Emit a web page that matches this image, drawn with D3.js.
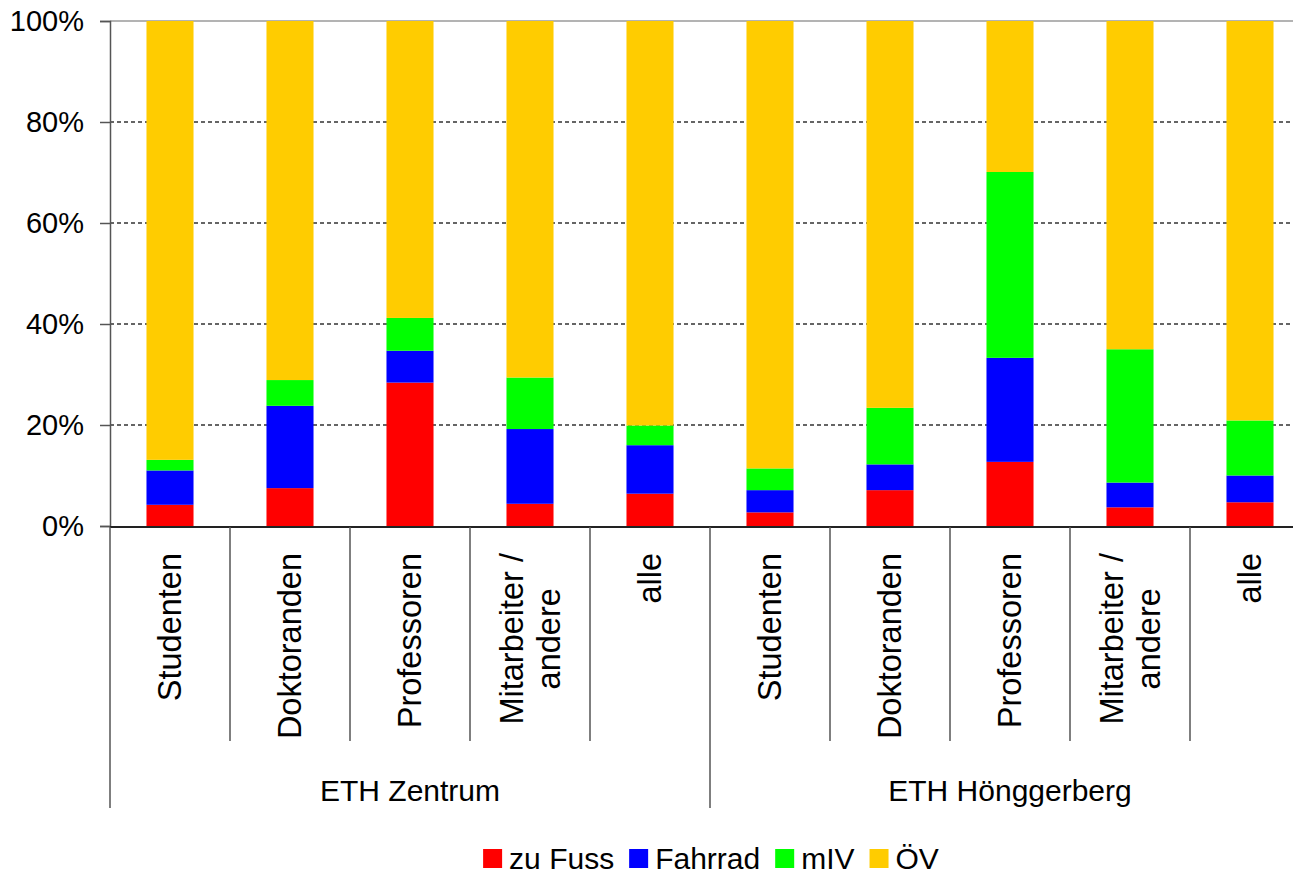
<!DOCTYPE html>
<html>
<head>
<meta charset="utf-8">
<script src="https://cdn.jsdelivr.net/npm/d3@7"></script>
<style>
  html, body { margin: 0; padding: 0; background: #fff; overflow: hidden; }
  text { font-family: "Liberation Sans", Arial, sans-serif; fill: #000; }
</style>
</head>
<body>
<svg id="chart" width="1293" height="875"></svg>
<script>
// ---- data ----
const groups = ["ETH Zentrum", "ETH Hönggerberg"];
const categories = ["Studenten", "Doktoranden", "Professoren", "Mitarbeiter /\nandere", "alle"];
const seriesNames = ["zu Fuss", "Fahrrad", "mIV", "ÖV"];
const zuFuss  = [4.2, 7.5, 28.4, 4.4, 6.4,   2.7, 7.1, 12.7, 3.7, 4.7];
const fahrrad = [6.8, 16.3, 6.3, 14.8, 9.6,  4.4, 5.1, 20.6, 4.9, 5.3];
const mIV     = [2.1, 5.1, 6.5, 10.2, 3.9,   4.3, 11.2, 36.8, 26.4, 10.9];
const oev     = [86.9, 71.1, 58.8, 70.6, 80.1, 88.6, 76.6, 29.9, 65.0, 79.1];
const yTicks = [0, 20, 40, 60, 80, 100];
const colors = ["#FF0000", "#0000FF", "#00FF00", "#FFCC00"];

// ---- build table ----
const seriesValues = [zuFuss, fahrrad, mIV, oev];
const rows = [];
groups.forEach((g, gi) => categories.forEach((c, ci) => {
  const idx = gi * categories.length + ci;
  const row = { key: g + "|" + c, group: g, cat: c };
  seriesNames.forEach((s, si) => row[s] = seriesValues[si][idx]);
  rows.push(row);
}));

const svg = d3.select("#chart");
const mLeft = 110, mRight = 1310, mTop = 21, mBottom = 526;

const x = d3.scaleBand().domain(rows.map(r => r.key)).range([mLeft, mRight])
  .paddingInner(0.608).paddingOuter(0.304);
const step = x.step();
const y = d3.scaleLinear().domain([0, 100]).range([mBottom, mTop]);

// gridlines
svg.append("g").selectAll("line").data(yTicks.filter(t => t > 0 && t < 100)).join("line")
  .attr("x1", mLeft).attr("x2", 1293).attr("y1", d => y(d)).attr("y2", d => y(d))
  .attr("stroke", "#333").attr("stroke-width", 1.5).attr("stroke-dasharray", "4,3");
svg.append("line").attr("x1", mLeft).attr("x2", 1293).attr("y1", y(100)).attr("y2", y(100))
  .attr("stroke", "#b3b3b3").attr("stroke-width", 2);

// stacked bars
const stack = d3.stack().keys(seriesNames)(rows);
svg.append("g").selectAll("g").data(stack).join("g")
  .attr("fill", (d, i) => colors[i])
  .selectAll("rect").data(d => d).join("rect")
  .attr("x", d => x(d.data.key)).attr("width", x.bandwidth())
  .attr("y", d => y(d[1])).attr("height", d => y(d[0]) - y(d[1]));

// y axis
const yAxis = svg.append("g").attr("transform", `translate(${mLeft},0)`)
  .call(d3.axisLeft(y).tickValues(yTicks).tickFormat(d => d + "%").tickSize(10).tickPadding(16));
yAxis.select(".domain").attr("stroke", "#555").attr("stroke-width", 1.5);
yAxis.selectAll(".tick line").attr("stroke", "#555").attr("stroke-width", 1.5);
yAxis.selectAll(".tick text").attr("font-size", 29).attr("font-family", "Liberation Sans, Arial, sans-serif").attr("fill", "#000");

// x axis baseline
svg.append("line").attr("x1", mLeft).attr("x2", 1293).attr("y1", mBottom + 1).attr("y2", mBottom + 1)
  .attr("stroke", "#222").attr("stroke-width", 2);

// category separators
const sepXs = d3.range(rows.length + 1).map(i => mLeft + i * step);
svg.append("g").selectAll("line").data(sepXs).join("line")
  .attr("x1", d => d).attr("x2", d => d).attr("y1", mBottom + 1)
  .attr("y2", (d, i) => (i % categories.length === 0) ? 808 : 741)
  .attr("stroke", "#555").attr("stroke-width", 1.5);

// category labels
const fs = 32.5;
const labG = svg.append("g");
rows.forEach(r => {
  const cx = x(r.key) + x.bandwidth() / 2;
  const lines = r.cat.split("\n");
  const t = labG.append("text").attr("font-size", fs)
    .attr("transform", `translate(${cx},553) rotate(-90)`);
  if (lines.length === 1) {
    t.attr("text-anchor", "end").attr("dy", "0.35em").text(lines[0]);
  } else {
    t.attr("text-anchor", "middle");
    lines.forEach((ln, li) => t.append("tspan").attr("x", 0)
      .attr("dy", li === 0 ? (0.35 - 0.57) + "em" : "1.14em").text(ln));
    const w = d3.max(t.selectAll("tspan").nodes(), n => n.getComputedTextLength());
    t.attr("transform", `translate(${cx},${553 + w / 2}) rotate(-90)`);
  }
});

// group labels
svg.append("g").selectAll("text").data(groups).join("text")
  .attr("x", (d, i) => mLeft + (i * categories.length + categories.length / 2) * step)
  .attr("y", 801).attr("text-anchor", "middle").attr("font-size", 30).text(d => d);

// legend
const leg = svg.append("g");
let cur = 0;
seriesNames.forEach((s, i) => {
  const g = leg.append("g").attr("transform", `translate(${cur},0)`);
  g.append("rect").attr("x", 0).attr("y", 849).attr("width", 19).attr("height", 19).attr("fill", colors[i]);
  const t = g.append("text").attr("x", 26).attr("y", 869).attr("font-size", 30).text(s);
  cur += 26 + t.node().getComputedTextLength() + 15;
});
const legW = cur - 15;
leg.attr("transform", `translate(${711 - legW / 2},0)`);
</script>
</body>
</html>
